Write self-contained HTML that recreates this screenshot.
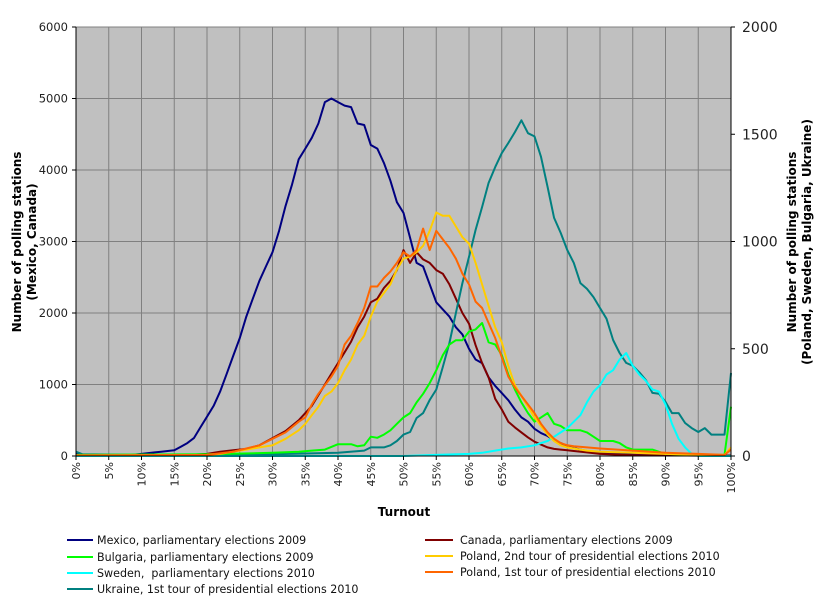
<!DOCTYPE html>
<html><head><meta charset="utf-8">
<style>
html,body{margin:0;padding:0;background:#fff;}
svg{display:block;font-family:"DejaVu Sans","Liberation Sans",sans-serif;}
</style></head>
<body>
<svg id="chart" width="825" height="606" viewBox="0 0 825 606" xmlns="http://www.w3.org/2000/svg">
<rect x="76" y="27" width="655" height="429" fill="#c0c0c0"/>
<g id="grid"></g>
<g id="series"></g>
<g id="axes"></g>
<g id="legend"></g>
</svg>
<script>
const turnoutPct = [];
for (let i = 0; i <= 100; i++) turnoutPct.push(i);
const leftTicks = [0,1000,2000,3000,4000,5000,6000];
const rightTicks = [0,500,1000,1500,2000];
const xTickLabels = [0,5,10,15,20,25,30,35,40,45,50,55,60,65,70,75,80,85,90,95,100];

const mexico = [[0,30],[1,10],[3,10],[5,10],[8,10],[10,30],[11,40],[12,50],[13,60],[14,70],[15,80],[16,130],[17,180],[18,250],[19,400],[20,550],[21,700],[22,900],[23,1150],[24,1400],[25,1650],[26,1950],[27,2200],[28,2450],[29,2650],[30,2850],[31,3150],[32,3500],[33,3800],[34,4150],[35,4300],[36,4450],[37,4650],[38,4950],[39,5000],[40,4950],[41,4900],[42,4880],[43,4650],[44,4630],[45,4350],[46,4300],[47,4100],[48,3850],[49,3550],[50,3400],[51,3050],[52,2700],[53,2650],[54,2400],[55,2150],[56,2050],[57,1950],[58,1800],[59,1700],[60,1500],[61,1350],[62,1300],[63,1100],[64,980],[65,880],[66,780],[67,650],[68,540],[69,480],[70,380],[71,320],[72,280],[73,220],[74,180],[75,140],[76,110],[77,90],[78,70],[79,55],[80,40],[85,20],[90,10],[95,5],[100,5]];
const canada = [[0,10],[10,10],[18,20],[20,30],[22,60],[24,80],[26,100],[28,150],[30,250],[32,350],[34,500],[36,700],[38,1000],[39,1150],[40,1300],[41,1450],[42,1600],[43,1800],[44,1950],[45,2150],[46,2200],[47,2350],[48,2450],[49,2600],[50,2880],[51,2700],[52,2850],[53,2750],[54,2700],[55,2600],[56,2550],[57,2400],[58,2200],[59,2000],[60,1850],[61,1550],[62,1300],[63,1100],[64,800],[65,650],[66,480],[67,400],[68,330],[69,260],[70,200],[71,160],[72,120],[73,100],[74,90],[75,80],[76,70],[78,50],[80,30],[85,10],[100,5]];
const bulgaria = [[0,5],[20,8],[30,15],[34,20],[36,25],[38,30],[40,55],[42,55],[43,45],[44,50],[45,90],[46,85],[47,100],[48,120],[49,150],[50,180],[51,200],[52,250],[53,290],[54,340],[55,400],[56,470],[57,520],[58,540],[59,540],[60,580],[61,590],[62,620],[63,530],[64,520],[65,470],[66,380],[67,310],[68,250],[69,200],[70,160],[71,180],[72,200],[73,150],[74,140],[75,120],[76,120],[77,120],[78,110],[79,90],[80,70],[81,70],[82,70],[83,60],[84,40],[85,30],[88,30],[90,10],[95,5],[99,5],[100,230]];
const polandSecond = [[0,3],[20,5],[22,10],[24,20],[26,30],[28,40],[30,50],[32,80],[34,120],[35,150],[36,190],[37,230],[38,280],[39,300],[40,340],[41,400],[42,450],[43,520],[44,560],[45,650],[46,720],[47,760],[48,800],[49,870],[50,920],[51,930],[52,950],[53,980],[54,1050],[55,1135],[56,1120],[57,1120],[58,1070],[59,1020],[60,990],[61,900],[62,800],[63,700],[64,600],[65,530],[66,420],[67,330],[68,280],[69,230],[70,180],[71,140],[72,100],[73,70],[74,50],[75,40],[76,35],[77,30],[78,25],[80,20],[85,15],[90,10],[95,5],[99,5],[100,40]];
const sweden = [[0,0],[50,0],[55,5],[60,10],[62,15],[64,25],[66,35],[68,40],[70,50],[71,60],[72,70],[73,90],[74,110],[75,130],[76,160],[77,190],[78,250],[79,300],[80,330],[81,380],[82,400],[83,450],[84,480],[85,420],[86,380],[87,350],[88,310],[89,300],[90,240],[91,150],[92,80],[93,40],[94,10],[95,0],[100,0]];
const polandFirst = [[0,3],[20,5],[24,20],[26,35],[28,50],[30,80],[32,110],[34,160],[35,180],[36,240],[37,290],[38,330],[39,370],[40,420],[41,520],[42,560],[43,620],[44,690],[45,790],[46,790],[47,830],[48,860],[49,900],[50,950],[51,930],[52,960],[53,1060],[54,960],[55,1050],[56,1010],[57,970],[58,920],[59,850],[60,800],[61,720],[62,690],[63,620],[64,550],[65,460],[66,370],[67,320],[68,280],[69,240],[70,200],[71,150],[72,110],[73,80],[74,60],[75,50],[76,45],[80,35],[85,25],[90,15],[95,10],[99,5],[100,30]];
const ukraine = [[0,20],[1,8],[10,5],[30,8],[40,15],[44,25],[45,40],[47,40],[48,50],[49,70],[50,100],[51,112],[52,177],[53,200],[54,261],[55,310],[56,415],[57,527],[58,667],[59,806],[60,928],[61,1054],[62,1161],[63,1273],[64,1347],[65,1412],[66,1459],[67,1510],[68,1565],[69,1505],[70,1490],[71,1395],[72,1254],[73,1110],[74,1040],[75,960],[76,900],[77,806],[78,780],[79,741],[80,690],[81,640],[82,541],[83,480],[84,434],[85,420],[86,390],[87,354],[88,294],[89,290],[90,252],[91,200],[92,200],[93,154],[94,130],[95,112],[96,130],[97,100],[98,100],[99,100],[100,387]];

const X0=76, X1=731, Y0=456, Y1=27;
const xs = p => X0 + (X1-X0)*p/100;
const yL = v => Y0 - (Y0-Y1)*v/6000;
const yR = v => Y0 - (Y0-Y1)*v/2000;
const NS="http://www.w3.org/2000/svg";
function mk(tag, attrs, parent){const e=document.createElementNS(NS,tag);for(const k in attrs)e.setAttribute(k,attrs[k]);parent.appendChild(e);return e;}
const grid=document.getElementById('grid'), ser=document.getElementById('series'), axes=document.getElementById('axes');

xTickLabels.forEach(p=>{ if(p>0&&p<100){const l=mk('line',{x1:xs(p),x2:xs(p),y1:Y1,y2:Y0,stroke:'#808080','stroke-width':1},grid);

}});
leftTicks.forEach(v=>{ if(v>0){const l=mk('line',{x1:X0,x2:X1,y1:yL(v),y2:yL(v),stroke:'#808080','stroke-width':1},grid);

}});

const seriesDefs=[
 ['mexico-line',mexico,'#000080',yL],
 ['canada-line',canada,'#800000',yL],
 ['ukraine-line',ukraine,'#008080',yR],
 ['bulgaria-line',bulgaria,'#00ff00',yR],
 ['sweden-line',sweden,'#00ffff',yR],
 ['poland-second-line',polandSecond,'#ffcc00',yR],
 ['poland-first-line',polandFirst,'#ff6600',yR]
];
seriesDefs.forEach(([name,data,col,ysc])=>{
 const pts=data.map(d=>xs(d[0]).toFixed(1)+','+ysc(d[1]).toFixed(1)).join(' ');
 const pl=mk('polyline',{points:pts,fill:'none',stroke:col,'stroke-width':2,'stroke-linejoin':'round'},ser);
 
 
});

mk('line',{x1:X0,x2:X0,y1:Y1,y2:Y0,stroke:'#000'},axes);
mk('line',{x1:X1,x2:X1,y1:Y1,y2:Y0,stroke:'#000'},axes);
mk('line',{x1:X0,x2:X1,y1:Y0,y2:Y0,stroke:'#000'},axes);
leftTicks.forEach(v=>{mk('line',{x1:X0-4,x2:X0,y1:yL(v),y2:yL(v),stroke:'#000'},axes);
 const t=mk('text',{x:X0-8,y:yL(v)+4,'text-anchor':'end','font-size':11.5,fill:'#222'},axes);t.textContent=v;
 
 });
rightTicks.forEach(v=>{mk('line',{x1:X1,x2:X1+4,y1:yR(v),y2:yR(v),stroke:'#000'},axes);
 const t=mk('text',{x:X1+11,y:yR(v)+5,'text-anchor':'start','font-size':14,fill:'#222'},axes);t.textContent=v;
 
 });
xTickLabels.forEach(p=>{mk('line',{x1:xs(p),x2:xs(p),y1:Y0,y2:Y0+4,stroke:'#000'},axes);
 const t=mk('text',{x:0,y:0,'text-anchor':'end','font-size':11,fill:'#222',transform:`translate(${xs(p)+4},${Y0+6}) rotate(-90)`},axes);t.textContent=p+'%';
 
 });
</script>
<svg style="position:absolute;left:0;top:0" width="825" height="606" xmlns="http://www.w3.org/2000/svg" font-family="DejaVu Sans, Liberation Sans, sans-serif">
<text x="404" y="516" text-anchor="middle" font-size="12" font-weight="bold">Turnout</text>
<text transform="translate(21,242) rotate(-90)" text-anchor="middle" font-size="12" font-weight="bold"><tspan x="0" dy="0">Number of polling stations</tspan><tspan x="0" dy="15">(Mexico, Canada)</tspan></text>
<text transform="translate(796,242) rotate(-90)" text-anchor="middle" font-size="12" font-weight="bold"><tspan x="0" dy="0">Number of polling stations</tspan><tspan x="0" dy="15">(Poland, Sweden, Bulgaria, Ukraine)</tspan></text>
<g font-size="11.1" fill="#111">
<g><line x1="67" x2="93" y1="540" y2="540" stroke="#000080" stroke-width="2"/><text x="97" y="544">Mexico, parliamentary elections 2009</text></g>
<g><line x1="67" x2="93" y1="557" y2="557" stroke="#00ff00" stroke-width="2"/><text x="97" y="561">Bulgaria, parliamentary elections 2009</text></g>
<g><line x1="67" x2="93" y1="573" y2="573" stroke="#00ffff" stroke-width="2"/><text x="97" y="577">Sweden,&#160; parliamentary elections 2010</text></g>
<g><line x1="67" x2="93" y1="589" y2="589" stroke="#008080" stroke-width="2"/><text x="97" y="593">Ukraine, 1st tour of presidential elections 2010</text></g>
<g><line x1="425" x2="453" y1="540" y2="540" stroke="#800000" stroke-width="2"/><text x="460" y="544">Canada, parliamentary elections 2009</text></g>
<g><line x1="425" x2="453" y1="556" y2="556" stroke="#ffcc00" stroke-width="2"/><text x="460" y="560">Poland, 2nd tour of presidential elections 2010</text></g>
<g><line x1="425" x2="453" y1="572" y2="572" stroke="#ff6600" stroke-width="2"/><text x="460" y="576">Poland, 1st tour of presidential elections 2010</text></g>
</g>
</svg>
</body></html>
